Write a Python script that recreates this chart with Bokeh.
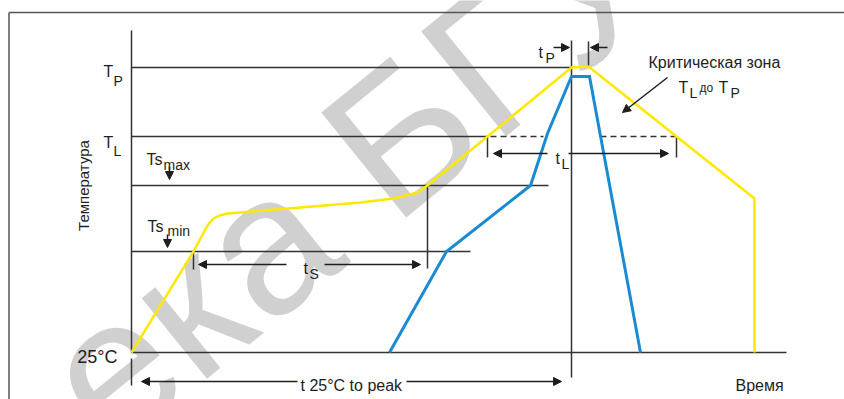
from bokeh.plotting import figure
from bokeh.models import Range1d, ColumnDataSource, Arrow, NormalHead
from bokeh.core.properties import value
from bokeh.embed import file_html
from bokeh.resources import INLINE

# Schematic units: t = time from the temperature axis, T = level above the 25°C line
T_25, T_SMIN, T_SMAX, T_LIQ, T_PEAK = 0, 101, 167, 216, 285

# Yellow (maximum) profile
yel_t = [0, 62, 76, 82, 88, 96, 109, 130, 169, 229, 262, 286, 296, 356, 440, 457, 545, 623, 623]
yel_T = [0, 101, 127, 134, 137, 139, 140, 142, 145, 150, 154, 160, 167, 216, 285, 286, 216, 154, 0]

# Blue (minimum) profile
blue_t = [258, 315, 399, 416, 440, 458, 509]
blue_T = [0, 101, 167, 219, 276, 276, 0]

# Solid reference lines
ref_x0 = [0, 0, 0, 0, 0, 0, 0, 440, 457, 62, 296, 356, 545]
ref_y0 = [T_PEAK, T_LIQ, T_SMAX, T_SMIN, T_25, 0, -6, 312, 311, T_SMIN, T_SMAX, T_LIQ, T_LIQ]
ref_x1 = [440, 356, 417, 339, 655, 0, 0, 440, 457, 62, 296, 356, 545]
ref_y1 = [T_PEAK, T_LIQ, T_SMAX, T_SMIN, T_25, 322, -33, -25, 286, 83, 84, 195, 195]

# Dashed continuation of T_L
dash_x0 = [359, 469]
dash_x1 = [412, 545]
dash_y = [T_LIQ, T_LIQ]

# Arrows
arr_x0 = [166, 275, 155, 193, 416, 437, 422, 476, 38, 36, 536]
arr_y0 = [-29, -29, 88, 88, 199, 199, 305, 305, 186, 118, 275]
arr_x1 = [10, 430, 67, 289, 362, 537, 438, 459, 38, 36, 491]
arr_y1 = [-29, -29, 88, 88, 199, 199, 305, 305, 173, 105, 240]

# Labels (main letters)
lab_text = ["T", "T", "Ts", "Ts", "t", "t", "t", "T", "T"]
lab_x = [-28, -28, 15, 16, 172, 424, 407, 547, 587]
lab_y = [281, 210, 193, 126, 84, 194, 300, 265, 265]
# Subscripts
sub_text = ["P", "L", "max", "min", "S", "L", "P", "L", "P"]
sub_x = [-18, -18, 32, 36, 178, 430, 414, 558, 599]
sub_y = [272, 202, 188, 122, 79, 189, 295, 260, 260]

other_text = ["t 25°C to peak", "Время", "Критическая зона"]
other_x = [169, 604, 517]
other_y = [-33, -33, 290]

FONT = value("Liberation Sans")
INK = "#1e1e1e"
LINE = "#333333"

p = figure(width=844, height=399, x_range=Range1d(-131, 713), y_range=Range1d(-47, 352),
           toolbar_location=None, output_backend="svg", x_axis_type=None, y_axis_type=None,
           min_border=0)
p.outline_line_color = None
p.grid.visible = False

# watermark
p.text(x=[324], y=[262], text=["ека БГУИР"], angle=0.681, text_font=FONT,
       text_font_size="196px", text_color="#d0d0d0", text_align="center",
       text_baseline="middle")

# frame
p.segment(x0=[-122.5, -122.5], y0=[340, 340], x1=[-122.5, 713], y1=[-47, 340],
          line_color="#555555", line_width=1.5)

p.segment(x0=ref_x0, y0=ref_y0, x1=ref_x1, y1=ref_y1, line_color=LINE, line_width=1.5)
p.segment(x0=dash_x0, y0=dash_y, x1=dash_x1, y1=dash_y, line_color=LINE, line_width=1.5,
          line_dash="6 4")

p.line(yel_t, yel_T, line_color="#ffe800", line_width=2.5, line_join="round")
p.line(blue_t, blue_T, line_color="#1a8bd3", line_width=3, line_join="miter")

arrows = ColumnDataSource(dict(x0=arr_x0, y0=arr_y0, x1=arr_x1, y1=arr_y1))
p.add_layout(Arrow(source=arrows, x_start="x0", y_start="y0", x_end="x1", y_end="y1",
                   line_color=INK, line_width=1.5,
                   end=NormalHead(size=8, fill_color=INK, line_color=INK, line_width=1)))

p.text(x=lab_x, y=lab_y, text=lab_text, text_font=FONT, text_font_size="16px",
       text_color=INK, text_align="left", text_baseline="alphabetic")
p.text(x=sub_x, y=sub_y, text=sub_text, text_font=FONT, text_font_size="14px",
       text_color=INK, text_align="left", text_baseline="alphabetic")
p.text(x=other_x, y=other_y, text=other_text, text_font=FONT, text_font_size="16px",
       text_color=INK, text_align="left", text_baseline="alphabetic")
p.text(x=[568], y=[265], text=["до"], text_font=FONT, text_font_size="12px",
       text_color=INK, text_align="left", text_baseline="alphabetic")
p.text(x=[-14], y=[-4], text=["25°C"], text_font=FONT, text_font_size="18px",
       text_color=INK, text_align="right", text_baseline="alphabetic")
p.text(x=[-48], y=[167], text=["Температура"], angle=1.5708, text_font=FONT,
       text_font_size="15px", text_color=INK, text_align="center", text_baseline="middle")

open("out.html", "w").write(file_html(p, INLINE))
